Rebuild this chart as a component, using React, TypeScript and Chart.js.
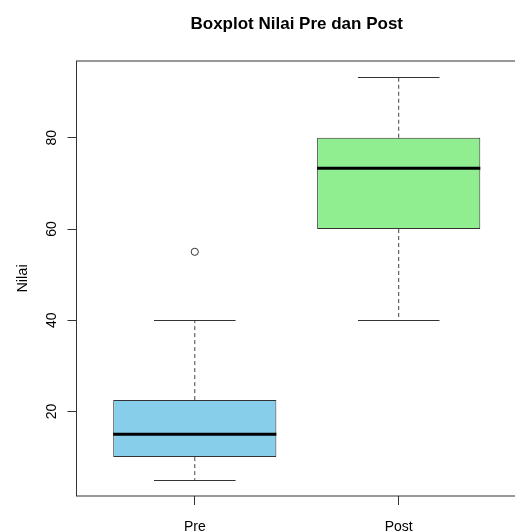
import React, { useEffect, useRef } from 'react';
import { Chart, registerables } from 'chart.js';

Chart.register(...registerables);

const categories = ['Pre', 'Post'];
const whiskerLow = [5, 40];
const quartile1 = [10, 60];
const medians = [15, 73.3];
const quartile3 = [22.5, 80];
const whiskerHigh = [40, 93.3];
const outliers: number[][] = [[55], []];
const yTicks = [20, 40, 60, 80];
const boxColors = ['#87CEEB', '#90EE90'];
const chartTitle = 'Boxplot Nilai Pre dan Post';
const yTitle = 'Nilai';

const FONT = '"Liberation Sans", Arial, Helvetica, sans-serif';

// R style axis ranges (4% extension)
const allVals = [...whiskerLow, ...whiskerHigh, ...outliers.flat()];
const dataMin = Math.min(...allVals);
const dataMax = Math.max(...allVals);
const yExt = (dataMax - dataMin) * 0.04;
const yMin = dataMin - yExt;
const yMax = dataMax + yExt;
const xExt = categories.length * 0.04;
const xMin = 0.5 - xExt;
const xMax = categories.length + 0.5 + xExt;

const BOX_HALF = 0.4;
const CAP_HALF = 0.2;

const rBoxPlugin = {
  id: 'rBoxPlugin',
  beforeDatasetsDraw(chart: any) {
    const { ctx, scales } = chart;
    const x = scales.x;
    const y = scales.y;
    ctx.save();
    categories.forEach((_, i) => {
      const cx = x.getPixelForValue(i + 1);
      const capL = x.getPixelForValue(i + 1 - CAP_HALF);
      const capR = x.getPixelForValue(i + 1 + CAP_HALF);
      ctx.strokeStyle = '#444';
      ctx.lineWidth = 1;
      ctx.setLineDash([4, 3]);
      ctx.beginPath();
      ctx.moveTo(cx, y.getPixelForValue(quartile3[i]));
      ctx.lineTo(cx, y.getPixelForValue(whiskerHigh[i]));
      ctx.moveTo(cx, y.getPixelForValue(quartile1[i]));
      ctx.lineTo(cx, y.getPixelForValue(whiskerLow[i]));
      ctx.stroke();
      ctx.setLineDash([]);
      ctx.strokeStyle = '#333';
      ctx.beginPath();
      const yh = Math.round(y.getPixelForValue(whiskerHigh[i])) + 0.5;
      const yl = Math.round(y.getPixelForValue(whiskerLow[i])) + 0.5;
      ctx.moveTo(capL, yh);
      ctx.lineTo(capR, yh);
      ctx.moveTo(capL, yl);
      ctx.lineTo(capR, yl);
      ctx.stroke();
    });
    ctx.restore();
  },
  afterDatasetsDraw(chart: any) {
    const { ctx, scales } = chart;
    const x = scales.x;
    const y = scales.y;
    ctx.save();
    ctx.strokeStyle = '#000';
    ctx.lineWidth = 3;
    categories.forEach((_, i) => {
      const l = x.getPixelForValue(i + 1 - BOX_HALF);
      const r = x.getPixelForValue(i + 1 + BOX_HALF);
      const my = y.getPixelForValue(medians[i]);
      ctx.beginPath();
      ctx.moveTo(l, my);
      ctx.lineTo(r, my);
      ctx.stroke();
    });
    ctx.restore();
  },
  afterDraw(chart: any) {
    const { ctx, chartArea } = chart;
    ctx.save();
    ctx.strokeStyle = '#333';
    ctx.lineWidth = 1;
    ctx.strokeRect(chartArea.left, chartArea.top, chartArea.right - chartArea.left, chartArea.bottom - chartArea.top);
    ctx.restore();
  },
};

export default function App() {
  const canvasRef = useRef<HTMLCanvasElement | null>(null);

  useEffect(() => {
    if (!canvasRef.current) return;
    Chart.defaults.font.family = FONT;
    Chart.defaults.color = '#000';

    const boxData = categories.map((_, i) => ({ x: i + 1, y: [quartile1[i], quartile3[i]] }));
    const outlierData: { x: number; y: number }[] = [];
    outliers.forEach((arr, i) => arr.forEach((v) => outlierData.push({ x: i + 1, y: v })));

    const chart = new Chart(canvasRef.current, {
      type: 'bar',
      data: {
        datasets: [
          {
            type: 'bar',
            label: 'box',
            data: boxData as any,
            backgroundColor: boxColors,
            borderColor: '#333',
            borderWidth: 1,
            borderSkipped: false,
            categoryPercentage: 1,
            barPercentage: BOX_HALF * 2,
          } as any,
          {
            type: 'scatter',
            label: 'outlier',
            data: outlierData,
            pointStyle: 'circle',
            pointRadius: 3.6,
            pointBackgroundColor: 'rgba(0,0,0,0)',
            pointBorderColor: '#333',
            pointBorderWidth: 1,
            showLine: false,
          } as any,
        ],
      },
      options: {
        animation: false,
        responsive: true,
        maintainAspectRatio: false,
        layout: { padding: { left: 0, right: 43, top: 0, bottom: 0 } },
        plugins: {
          legend: { display: false },
          tooltip: { enabled: false },
          title: {
            display: true,
            text: chartTitle,
            fullSize: false,
            color: '#000',
            font: { family: FONT, size: 17, weight: 'bold' },
            padding: { top: 14, bottom: 26.6 },
          },
        },
        scales: {
          x: {
            type: 'linear',
            min: xMin,
            max: xMax,
            offset: false,
            afterBuildTicks: (scale: any) => {
              scale.ticks = categories.map((_, i) => ({ value: i + 1 }));
            },
            afterFit: (scale: any) => {
              scale.height = 44;
            },
            ticks: {
              autoSkip: false,
              maxRotation: 0,
              minRotation: 0,
              padding: 14,
              color: '#000',
              font: { family: FONT, size: 14 },
              callback: (v: any) => categories[Math.round(Number(v)) - 1],
            },
            grid: {
              display: true,
              offset: false,
              drawOnChartArea: false,
              drawTicks: true,
              tickLength: 9,
              tickColor: '#333',
            },
            border: { display: false },
          },
          y: {
            type: 'linear',
            min: yMin,
            max: yMax,
            afterBuildTicks: (scale: any) => {
              scale.ticks = yTicks.map((v) => ({ value: v }));
            },
            afterFit: (scale: any) => {
              scale.width = 76.5;
            },
            ticks: {
              autoSkip: false,
              minRotation: 90,
              maxRotation: 90,
              crossAlign: 'center',
              padding: 7.5,
              color: '#000',
              font: { family: FONT, size: 14 },
            },
            grid: {
              display: true,
              drawOnChartArea: false,
              drawTicks: true,
              tickLength: 9,
              tickColor: '#333',
            },
            border: { display: false },
            title: {
              display: true,
              text: yTitle,
              color: '#000',
              font: { family: FONT, size: 14.5 },
              padding: { top: 14, bottom: 0 },
            },
          },
        },
      },
      plugins: [rBoxPlugin],
    });
    return () => chart.destroy();
  }, []);

  return (
    <div style={{ position: 'fixed', left: 0, top: 0, width: 515, height: 532, overflow: 'hidden', background: '#fff' }}>
      <div style={{ position: 'absolute', left: 0, top: 0, width: 560, height: 540 }}>
        <canvas ref={canvasRef} />
      </div>
    </div>
  );
}
